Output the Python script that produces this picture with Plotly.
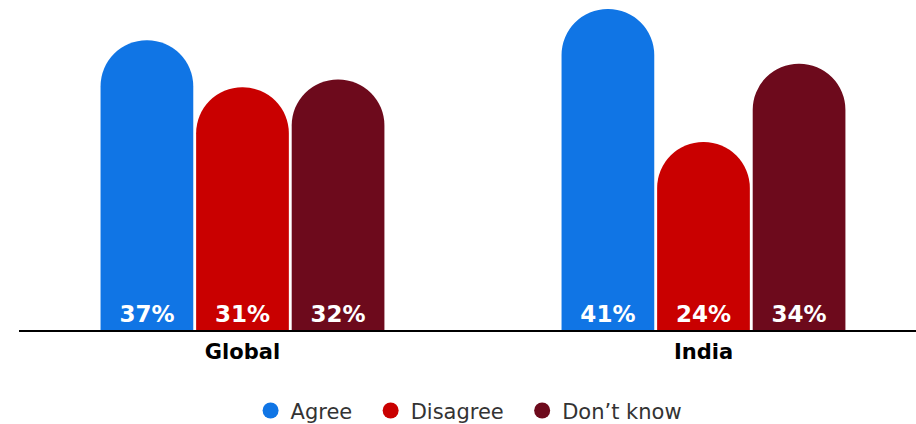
import plotly.graph_objects as go

categories = ["Global", "India"]
series_names = ["Agree", "Disagree", "Don’t know"]
agree = [37, 41]
disagree = [31, 24]
dont_know = [32, 34]
colors = ["#1075e5", "#c90000", "#6d0a1c"]

values = [agree, disagree, dont_know]
FONT = "DejaVu Sans"
PAD = "\u00a0\u00a0"

fig = go.Figure()
for name, vals, col in zip(series_names, values, colors):
    fig.add_trace(go.Bar(
        x=categories, y=vals, name=name,
        marker=dict(color=col, cornerradius="50%", line=dict(width=0)),
        text=[f"{v}%" for v in vals],
        textposition="inside", insidetextanchor="start", textangle=0,
        textfont=dict(family=FONT, size=23, color="white", weight=700),
        showlegend=False, hoverinfo="skip",
    ))
    fig.add_trace(go.Scatter(
        x=[None], y=[None], mode="markers", name=name + PAD,
        marker=dict(symbol="circle", size=20, color=col),
        showlegend=True,
    ))

fig.update_layout(
    width=916, height=424,
    margin=dict(l=19, r=0, t=0, b=94, autoexpand=False),
    paper_bgcolor="white", plot_bgcolor="white",
    barmode="group", bargap=0.378, bargroupgap=0.03,
    xaxis=dict(range=[-0.4848, 1.461], showline=True, linecolor="black", linewidth=2,
               showgrid=False, ticks="", zeroline=False, ticklabelstandoff=2,
               tickfont=dict(family=FONT, size=21, color="black", weight=700)),
    yaxis=dict(range=[0, 42.15], visible=False, showgrid=False, zeroline=False),
    legend=dict(orientation="h", x=0.509, xanchor="center", y=-0.245, yanchor="middle",
                font=dict(family=FONT, size=21, color="#333333"),
                itemsizing="trace"),
    font=dict(family=FONT),
)

fig.write_html("out.html", config={"displayModeBar": False})

with open("out.html", "r", encoding="utf-8") as f:
    html = f.read()
html = html.replace("<head>", "<head><style>html,body{margin:0;padding:0;overflow:hidden;}</style>", 1)
with open("out.html", "w", encoding="utf-8") as f:
    f.write(html)
